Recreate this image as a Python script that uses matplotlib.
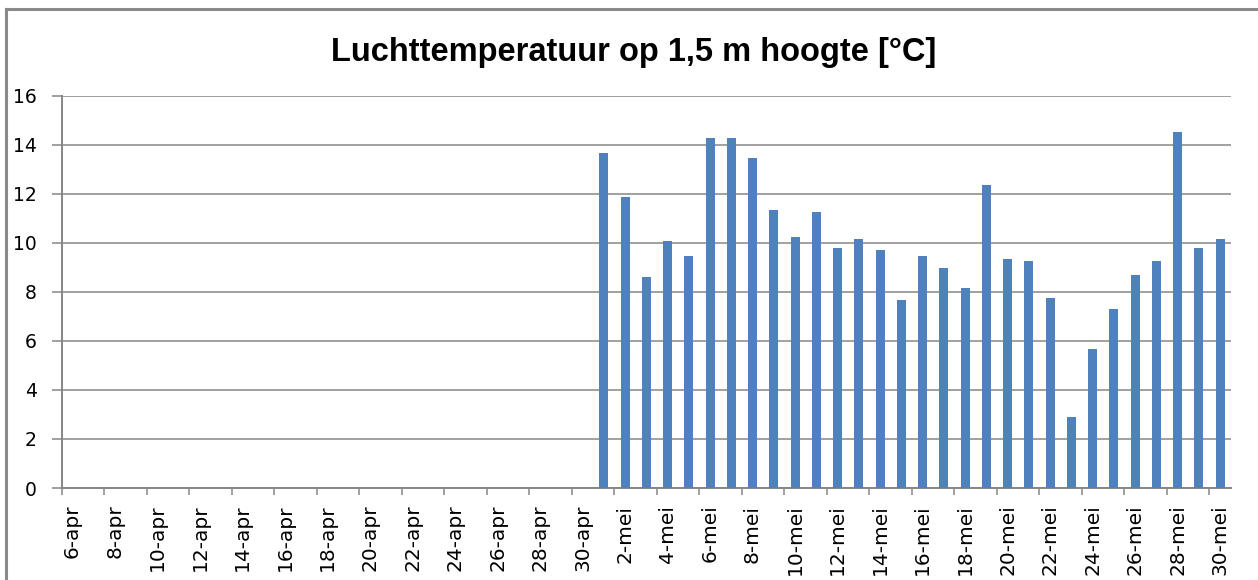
import matplotlib
matplotlib.use("Agg")
import matplotlib.pyplot as plt
from matplotlib.lines import Line2D

# Categories: every day from 6 april to 30 mei
categories = ([f"{d}-apr" for d in range(6, 31)] +
              [f"{d}-mei" for d in range(1, 31)])

# Measured air temperature at 1.5 m (only available in mei)
bar_dates = [f"{d}-mei" for d in range(1, 31)]
temperature = [13.65, 11.85, 8.6, 10.05, 9.45, 14.25, 14.25, 13.45, 11.35, 10.25,
               11.25, 9.8, 10.15, 9.7, 7.65, 9.45, 8.95, 8.15, 12.35, 9.35,
               9.25, 7.75, 2.9, 5.65, 7.3, 8.7, 9.25, 14.5, 9.8, 10.15]

y_ticks = [0, 2, 4, 6, 8, 10, 12, 14, 16]
title = "Luchttemperatuur op 1,5 m hoogte [°C]"

W, H = 1258, 580
fig = plt.figure(figsize=(W / 100, H / 100), dpi=100)
ax = fig.add_axes([62 / W, 1 - 488 / H, (1230.7 - 62) / W, (488 - 95.5) / H])

grey = "#868686"
xpos = [categories.index(d) for d in bar_dates]
ax.bar(xpos, temperature, width=0.42, color="#4F81BD", zorder=3)

ax.set_xlim(-0.5, len(categories) - 0.5)
ax.set_ylim(0, 16)
ax.set_yticks(y_ticks)
ax.set_yticklabels([str(v) for v in y_ticks], fontsize=13.5, family="DejaVu Sans")
ax.yaxis.grid(True, color=grey, linewidth=1.1, zorder=0)
ax.set_axisbelow(True)

# major ticks: boundaries every two categories; minor ticks carry the labels
ax.set_xticks([i - 0.5 for i in range(0, len(categories), 2)])
ax.set_xticklabels([])
ax.set_xticks(list(range(0, len(categories), 2)), minor=True)
ax.set_xticklabels(categories[::2], minor=True, rotation=90, fontsize=14.5,
                   family="DejaVu Sans", va="top", ha="center")
ax.tick_params(axis="x", which="major", length=5, width=1.1, color=grey, direction="out")
ax.tick_params(axis="x", which="minor", length=0, pad=12)
ax.tick_params(axis="y", length=7, width=1.1, color=grey, pad=11)

for s in ["top", "right"]:
    ax.spines[s].set_visible(False)
for s in ["left", "bottom"]:
    ax.spines[s].set_color(grey)
    ax.spines[s].set_linewidth(1.4)

fig.text(634 / W, 1 - 52 / H, title, ha="center", va="center", fontsize=23.5,
         fontweight="bold", family=["Liberation Sans", "DejaVu Sans"])

# chart-area border (top and left edges visible)
fig.add_artist(Line2D([6.5 / W, 1.0], [1 - 8.5 / H, 1 - 8.5 / H], transform=fig.transFigure,
                      color="#8a8a8a", linewidth=2.2))
fig.add_artist(Line2D([6.5 / W, 6.5 / W], [0, 1 - 8.5 / H], transform=fig.transFigure,
                      color="#8a8a8a", linewidth=2.2))

fig.savefig("out.png", dpi=100, facecolor="white")
